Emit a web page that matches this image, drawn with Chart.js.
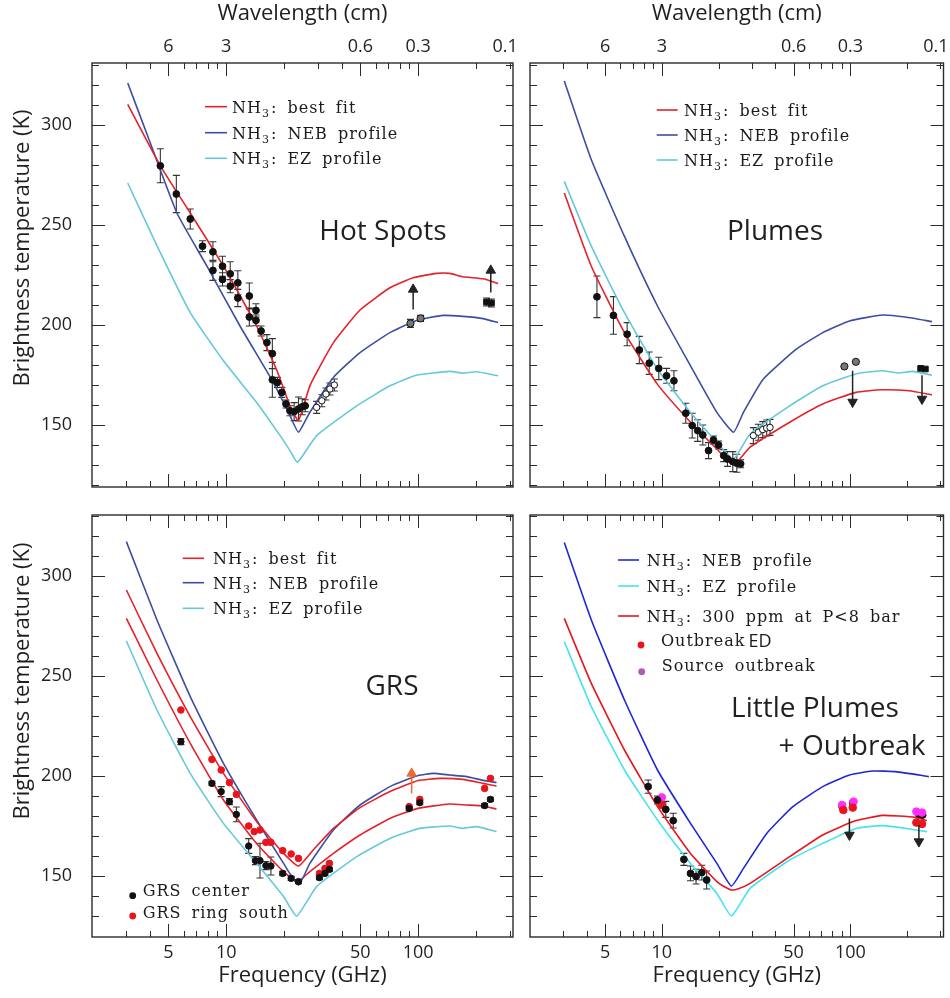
<!DOCTYPE html>
<html><head><meta charset="utf-8">
<script src="https://cdn.jsdelivr.net/npm/chart.js@4.4.1/dist/chart.umd.min.js"></script>
<style>
html,body{margin:0;padding:0;background:#fff;overflow:hidden;}
#wrap{position:relative;width:950px;height:998px;}
#wrap canvas{position:absolute;left:0;top:0;}
</style></head><body>
<div id="wrap">
<canvas id="cHS" width="950" height="998"></canvas>
<canvas id="cPL" width="950" height="998"></canvas>
<canvas id="cGRS" width="950" height="998"></canvas>
<canvas id="cLP" width="950" height="998"></canvas>
</div>
<script>
// ---------- axes ----------
const FREQ_MAJOR = [5, 10, 50, 100];
const FREQ_MINOR = [3, 4, 6, 7, 8, 9, 20, 30, 40, 60, 70, 80, 90, 200, 300];
const FREQ_LABELS = ['5', '10', '50', '100'];
const WAVE_TICK_FREQ = [5, 10, 50, 100, 300];
const WAVE_LABELS = ['6', '3', '0.6', '0.3', '0.1\u2002'];
const TEMP_TICKS = [150, 200, 250, 300];

// ---------- Hot Spots ----------
const HS_FIT_F = [3.07, 4.54, 6.5, 9.68, 14.4, 18.4, 21.5, 23.8, 27.3, 36.2, 49.8, 71.3, 94.2, 124.7, 146, 171, 218, 261];
const HS_FIT_T = [310.3, 279.6, 256, 229.4, 199.5, 177.1, 159.6, 152.2, 169.6, 191.2, 207.5, 218.6, 223.6, 225.8, 225.8, 224.1, 223.1, 220.8];
const HS_NEB_F = [3.07, 3.94, 5.54, 7.94, 11.8, 17.6, 21.5, 23.8, 27.3, 36.2, 49.8, 71.3, 98, 135, 171, 218, 261];
const HS_NEB_T = [321, 293.4, 256, 229.4, 199.5, 171.3, 154.7, 146.4, 156.4, 173.8, 186.2, 196.2, 202.3, 204.8, 204.3, 203.2, 201.2];
const HS_EZ_F = [3.07, 4.37, 6.5, 9.68, 14.4, 19.1, 21.5, 23.5, 29.6, 47.9, 71.3, 98, 146, 171, 201, 261];
const HS_EZ_T = [271, 239.4, 206.2, 182.1, 161.3, 144.7, 137.2, 131.4, 144.7, 159.6, 169.6, 174.9, 176.8, 175.9, 176.6, 174.6];
const HS_OBS_F = [4.54, 5.5, 6.5, 7.53, 8.53, 8.53, 9.57, 9.57, 10.5, 10.5, 11.5, 11.5, 13.2, 13.2, 14.3, 14.3, 15.2, 16.3, 17.4, 17.4, 18.5, 19.5, 20.5, 21.5, 22.6, 23.8, 24.9, 25.8];
const HS_OBS_T = [279.6, 265.5, 253, 239.4, 236.6, 227.3, 229.4, 222.8, 225.6, 219.4, 221.1, 213.5, 214.5, 204, 207.3, 202.3, 197, 191.2, 185.7, 172.6, 171.3, 166.3, 160.5, 157.1, 156.7, 158, 159.1, 159.6];
const HS_OBS_E = [8.5, 9.3, 5, 2.7, 5, 5, 5, 3.3, 6, 3.3, 6, 4.3, 6.5, 4.5, 3.3, 2.7, 2.5, 4, 7.5, 8.7, 2.5, 2.5, 2, 2.5, 4.5, 6, 4, 3];
const HS_OPEN_F = [29.6, 31.5, 33.1, 34.7, 36.6];
const HS_OPEN_T = [158.8, 162.1, 165.5, 168, 170];
const HS_OPEN_E = [3, 3, 3, 3, 3];
const HS_HI_F = [91.2, 103];
const HS_HI_T = [200.8, 203.3];
const HS_HI_E = [2, 1.5];
const HS_SQ_F = [227, 241];
const HS_SQ_T = [211.5, 211];
const HS_SQ_E = [2, 2];
const HS_ARROW_F = [94.2, 239];
const HS_ARROW_FROM = [207.8, 216.2];
const HS_ARROW_TO = [217.8, 227.3];

// ---------- Plumes ----------
const PL_NEB_F = [3.04, 4.23, 6.34, 9.49, 14.2, 19.6, 24, 27.1, 34.5, 51.7, 71.4, 98.9, 148, 196, 271];
const PL_NEB_T = [322, 282.6, 244.3, 209.5, 179.6, 156.3, 146.4, 156.3, 172.9, 187.9, 196.2, 202, 205, 204, 201.7];
const PL_EZ_F = [3.04, 4.23, 6.34, 9.49, 14.2, 19.6, 24, 29.4, 47.7, 71.4, 107, 148, 181, 213, 271];
const PL_EZ_T = [271.8, 239.4, 206.2, 177.9, 156.3, 141.4, 133, 145.5, 159.6, 169.6, 175.5, 177.1, 176, 176.8, 174.9];
const PL_FIT_F = [3.04, 4.23, 6.34, 9.49, 14.2, 19.6, 24, 29.4, 47.7, 71.4, 107, 148, 205, 271];
const PL_FIT_T = [266, 229.4, 196.2, 170.3, 151.4, 138, 130, 138.9, 151.4, 160.5, 166.3, 167.6, 167.1, 165.1];
const PL_OBS_F = [4.53, 5.54, 6.55, 7.6, 8.58, 9.64, 10.6, 11.6, 13.4, 14.5, 15.5, 16.5, 17.7, 18.8, 20, 21.3, 22.3, 23.8, 25, 26.2];
const PL_OBS_T = [214.1, 204.8, 195.4, 187.5, 180.9, 178.3, 174.6, 172.1, 155.9, 149.7, 147.2, 145, 137.2, 142.5, 140, 134.7, 133, 131.7, 130.9, 130.6];
const PL_OBS_E = [10.4, 9.4, 5.8, 6.8, 5.6, 5.6, 3.7, 5, 5, 6.2, 5.4, 5, 4, 2, 2, 3, 3.7, 5, 4.5, 2];
const PL_OPEN_F = [30.6, 32.5, 34.3, 36, 37.5];
const PL_OPEN_T = [144.7, 146.4, 147.7, 148.5, 148.8];
const PL_OPEN_E = [4, 4, 4, 4, 4];
const PL_HI_F = [93, 107];
const PL_HI_T = [179.3, 181.6];
const PL_SQ_F = [236, 250];
const PL_SQ_T = [178.3, 178];
const PL_ARROW_F = [102.8, 240];
const PL_ARROW_FROM = [177.1, 174.9];
const PL_ARROW_TO = [161.5, 163];

// ---------- GRS ----------
const GRS_NEB_F = [3.02, 4.36, 6.5, 9.68, 14.4, 19.9, 23.8, 27.3, 36.2, 49.8, 71.3, 100, 120, 146, 179, 218, 256];
const GRS_NEB_T = [317.2, 278, 239.7, 206.3, 178, 156.3, 145.5, 156.3, 173, 185.5, 194.7, 200.2, 201.3, 200.5, 199.7, 197.8, 196.7];
const GRS_FIT_S_F = [3.02, 4.36, 6.5, 9.68, 14.4, 19.9, 23.8, 28.4, 36.2, 49.8, 71.3, 100, 130, 171, 218, 256];
const GRS_FIT_S_T = [293, 261.3, 229.7, 201.3, 177.2, 161.3, 155, 163, 173.8, 184.2, 192.2, 197.7, 198.8, 198.3, 196.3, 195];
const GRS_FIT_C_F = [3.02, 4.36, 6.5, 9.68, 14.4, 19.9, 23.5, 27.3, 36.2, 49.8, 71.3, 100, 146, 179, 218, 256];
const GRS_FIT_C_T = [278.8, 248, 216.3, 188, 166.3, 152.2, 147.2, 152.2, 161.3, 170.5, 178.8, 183.8, 186, 185.5, 185, 183.5];
const GRS_EZ_F = [3.02, 4.36, 6.5, 9.68, 14.4, 19.9, 23.3, 29.6, 47.9, 71.3, 102, 146, 171, 201, 256];
const GRS_EZ_T = [267.5, 233, 201.3, 176.3, 156.3, 139.7, 130, 144.7, 159.7, 168.8, 173.8, 175, 173.8, 174.7, 172.2];
const GRS_C_F = [5.81, 8.43, 9.42, 10.4, 11.3, 13.1, 14.2, 15, 16.1, 17.1, 19.7, 21.8, 23.8, 30.6, 32.7, 34.5, 89.8, 102, 222, 238];
const GRS_C_T = [217.2, 196.3, 192.2, 187.2, 180.8, 165, 157.7, 157.7, 155.2, 155, 151.3, 148.8, 147.2, 149.2, 151.3, 153.3, 183.8, 186.7, 185.2, 188.3];
const GRS_C_E = [1.5, 1, 2.5, 1.5, 3.7, 3.7, 2, 8.7, 2, 4.5, 1, 1, 1, 1, 1, 1, 1, 1, 1, 1];
const GRS_S_F = [5.81, 8.43, 9.42, 10.4, 11.3, 13.1, 14, 15, 16.1, 17.1, 19.7, 21.8, 23.8, 30.6, 32.7, 34.5, 89.8, 102, 222, 238];
const GRS_S_T = [233, 208.3, 203, 196.7, 190.8, 175, 172.2, 173, 166.8, 166.8, 162.7, 161, 158.8, 151.3, 153.8, 156.3, 184.7, 188.3, 193.8, 198.8];
const GRS_ARROW_F = [92.5];
const GRS_ARROW_FROM = [191.3];
const GRS_ARROW_TO = [201.3];

// ---------- Little Plumes + Outbreak ----------
const LP_NEB_F = [3.04, 4.23, 6.34, 9.49, 14.2, 19.6, 23.4, 27.1, 36, 49.6, 71.4, 98.9, 131, 174, 261];
const LP_NEB_T = [316.7, 278, 238, 203, 176.3, 156.3, 145, 153.8, 171.3, 184.7, 194.7, 200.5, 202.5, 202.2, 199.7];
const LP_EZ_F = [3.04, 4.23, 6.34, 9.49, 14.2, 19.6, 23.4, 29.4, 47.7, 71.4, 107, 148, 181, 255];
const LP_EZ_T = [267.2, 234.7, 203, 178, 156.3, 141.3, 130, 143.8, 158, 166.3, 173.8, 175.2, 174.3, 172.2];
const LP_300_F = [3.04, 4.23, 6.34, 9.49, 14.2, 19.6, 21.5, 23.4, 25.5, 29.4, 47.7, 71.4, 107, 148, 181, 221, 255];
const LP_300_T = [278.8, 246.3, 213, 184.7, 161.3, 147.2, 144.6, 143, 143.6, 146.3, 159.7, 170.5, 177.7, 180.3, 180, 179.3, 177.7];
const LP_OBS_F = [8.47, 9.49, 10.5, 11.5, 13.1, 14.2, 15.2, 16.3, 17.3];
const LP_OBS_T = [194.7, 188, 183.3, 177.7, 158.3, 151.3, 149.7, 151.7, 148];
const LP_OBS_E = [3.3, 2, 4, 3.7, 3, 3.7, 3.7, 3.7, 4.5];
const LP_HIDDEN_F = [90.4, 103, 230, 242];
const LP_HIDDEN_T = [184.7, 186.7, 181, 180.5];
const LP_SRC_F = [10, 90.4, 104, 224, 240];
const LP_SRC_T = [189.3, 185.5, 187.2, 182.2, 181.7];
const LP_ED_F = [10, 91.8, 103, 224, 240];
const LP_ED_T = [185.5, 183, 184.2, 176.7, 176];
const LP_ARROW_F = [98.9, 231];
const LP_ARROW_FROM = [178.8, 175.5];
const LP_ARROW_TO = [170.5, 167.2];

// ---------- style ----------
const SANS = '"Open Sans", "Noto Sans", sans-serif';
const SERIF = '"DejaVu Serif", serif';
const INK = '#231f20';
const RED = '#e4222a', BLUE = '#3d4ea2', CYAN = '#66c8dc';
const BLUE2 = '#1f27d4', CYAN2 = '#45e4ee', RED2 = '#e8151d';
const MAG = '#ff2eff', PURPLE = '#b25ab5', ORANGE = '#ee6a2a';

function pts(F, T) { return F.map((f, i) => ({x: f, y: T[i]})); }
function curveDs(label, F, T, color) {
  return {label, data: pts(F, T), showLine: true, borderColor: color, backgroundColor: color,
    borderWidth: 1.6, pointRadius: 0, tension: 0.15, order: 10};
}
function pointDs(label, F, T, E, o) {
  return Object.assign({label, data: pts(F, T), showLine: false, errorBars: E || null,
    pointRadius: 3.4, pointStyle: 'circle', pointBackgroundColor: '#111', pointBorderColor: '#111',
    pointBorderWidth: 1, borderColor: '#111', backgroundColor: '#111', order: 3}, o || {});
}
function arrows(label, F, FROM, TO, color) {
  return F.map((f, i) => {
    const down = TO[i] < FROM[i];
    return {label, data: [{x: f, y: FROM[i]}, {x: f, y: TO[i]}], showLine: true, borderColor: color,
      backgroundColor: color, borderWidth: 1.5, pointRadius: [0, 5.5], pointStyle: 'triangle',
      pointRotation: [0, down ? 180 : 0], pointBackgroundColor: color, pointBorderColor: color,
      pointBorderWidth: 1, tension: 0, order: 1};
  });
}

// ---------- plugins ----------
const frameTicks = {
  id: 'frameTicks',
  afterDatasetsDraw(chart) {
    const {ctx, chartArea: a, scales: {x, y}} = chart;
    ctx.save();
    ctx.strokeStyle = '#2b2b2b';
    ctx.lineWidth = 1;
    ctx.beginPath();
    const xt = (vals, len) => vals.forEach(v => {
      const p = Math.round(x.getPixelForValue(v)) + 0.5;
      if (p <= a.left + 1 || p >= a.right - 1) return;
      ctx.moveTo(p, a.bottom); ctx.lineTo(p, a.bottom - len);
      ctx.moveTo(p, a.top); ctx.lineTo(p, a.top + len);
    });
    xt(FREQ_MAJOR, 13); xt(FREQ_MINOR, 6);
    for (let v = Math.ceil(y.min / 10) * 10; v <= y.max; v += 10) {
      const p = Math.round(y.getPixelForValue(v)) + 0.5;
      if (p <= a.top + 1 || p >= a.bottom - 1) continue;
      const len = (v % 50 === 0) ? 13 : 7;
      ctx.moveTo(a.left, p); ctx.lineTo(a.left + len, p);
      ctx.moveTo(a.right, p); ctx.lineTo(a.right - len, p);
    }
    ctx.stroke();
    ctx.lineWidth = 1.4;
    ctx.strokeRect(a.left, a.top, a.right - a.left, a.bottom - a.top);
    ctx.restore();
  }
};

const errorBars = {
  id: 'errorBars',
  beforeDatasetsDraw(chart) {
    const {ctx, chartArea: a, scales: {x, y}} = chart;
    ctx.save();
    ctx.beginPath(); ctx.rect(a.left, a.top, a.right - a.left, a.bottom - a.top); ctx.clip();
    chart.data.datasets.forEach(ds => {
      if (!ds.errorBars) return;
      ctx.strokeStyle = '#333'; ctx.lineWidth = 1.1;
      ctx.beginPath();
      ds.data.forEach((p, i) => {
        const e = ds.errorBars[i]; if (!e) return;
        const px = x.getPixelForValue(p.x);
        const y1 = y.getPixelForValue(p.y - e), y2 = y.getPixelForValue(p.y + e);
        ctx.moveTo(px, y1); ctx.lineTo(px, y2);
        ctx.moveTo(px - 3.5, y1); ctx.lineTo(px + 3.5, y1);
        ctx.moveTo(px - 3.5, y2); ctx.lineTo(px + 3.5, y2);
      });
      ctx.stroke();
    });
    ctx.restore();
  }
};

function drawRich(ctx, label, x, yMid, tail) {
  ctx.fillStyle = '#1b1b1b';
  ctx.textBaseline = 'alphabetic';
  ctx.textAlign = 'left';
  const base = yMid + 6;
  ctx.letterSpacing = '1px';
  ctx.wordSpacing = '4px';
  ctx.font = '16px ' + SERIF;
  let main = label, sans = null;
  if (tail && label.endsWith(' ' + tail)) { main = label.slice(0, -tail.length - 1); sans = tail; }
  const parts = main.split('\u2083');
  ctx.fillText(parts[0], x, base);
  let cx = x + ctx.measureText(parts[0]).width;
  if (parts.length > 1) {
    ctx.font = '11px ' + SERIF;
    ctx.fillText('3', cx, base + 4);
    cx += ctx.measureText('3').width + 1;
    ctx.font = '16px ' + SERIF;
    ctx.fillText(parts[1], cx, base);
    cx += ctx.measureText(parts[1]).width;
  }
  if (sans) {
    ctx.letterSpacing = '0px';
    ctx.font = '18px ' + SANS;
    ctx.fillText(sans, cx + 3, base + 1);
  }
}

const panelLegend = {
  id: 'panelLegend',
  afterDraw(chart, args, o) {
    if (!o || !o.items) return;
    const {ctx, chartArea: a} = chart;
    o.items.forEach(it => {
      const d = chart.data.datasets[it.ds];
      const color = d.legendColor || d.borderColor;
      const y = a.top + it.y;
      ctx.save();
      if (it.kind === 'line') {
        ctx.strokeStyle = color; ctx.lineWidth = 1.6;
        ctx.beginPath(); ctx.moveTo(a.left + it.x0, y); ctx.lineTo(a.left + it.x1, y); ctx.stroke();
      } else {
        ctx.fillStyle = color;
        ctx.beginPath(); ctx.arc(a.left + it.x0, y + it.dy, 3.4, 0, Math.PI * 2); ctx.fill();
      }
      drawRich(ctx, d.label, a.left + it.tx, y, it.tail);
      ctx.restore();
    });
  }
};

const panelText = {
  id: 'panelText',
  afterDraw(chart, args, o) {
    if (!o || !o.items) return;
    const {ctx, chartArea: a} = chart;
    o.items.forEach(t => {
      ctx.save();
      ctx.font = t.font; ctx.fillStyle = INK;
      ctx.textAlign = 'center'; ctx.textBaseline = 'middle';
      ctx.translate(t.abs ? t.x : a.left + t.x, t.abs ? t.y : a.top + t.y);
      if (t.rot) ctx.rotate(t.rot);
      ctx.fillText(t.text, 0, 0);
      ctx.restore();
    });
  }
};

// ---------- chart builder ----------
function makeChart(id, cfg) {
  const top = cfg.xPos === 'top';
  const xTicks = top ? WAVE_TICK_FREQ : FREQ_MAJOR;
  const xLabels = top ? WAVE_LABELS : FREQ_LABELS;
  return new Chart(document.getElementById(id), {
    type: 'scatter',
    data: {datasets: cfg.datasets},
    options: {
      responsive: false, animation: false, events: [],
      layout: {padding: cfg.padding},
      plugins: {
        legend: {display: false}, tooltip: {enabled: false},
        panelLegend: {items: cfg.legend}, panelText: {items: cfg.texts}
      },
      scales: {
        x: {
          type: 'logarithmic', position: cfg.xPos, min: 2, max: 312,
          grid: {display: false, drawTicks: false}, border: {display: false},
          afterBuildTicks: s => { s.ticks = xTicks.map(v => ({value: v})); },
          afterFit: s => { s.height = top ? 63 : 61; s.paddingLeft = 0; s.paddingRight = 0; },
          ticks: {font: {family: SANS, size: 18}, color: INK, padding: 5, maxRotation: 0, autoSkip: false,
            callback: v => { const i = xTicks.indexOf(v); return i >= 0 ? xLabels[i] : ''; }},
          title: {display: true, text: top ? 'Wavelength (cm)' : 'Frequency (GHz)', color: INK,
            font: {family: SANS, size: 22}, padding: top ? {top: 1, bottom: 0} : {top: 0, bottom: 9}}
        },
        y: {
          type: 'linear', display: cfg.yShow, min: cfg.yMin, max: cfg.yMax,
          grid: {display: false, drawTicks: false}, border: {display: false},
          afterBuildTicks: s => { s.ticks = TEMP_TICKS.map(v => ({value: v})); },
          afterFit: s => { s.width = cfg.yShow ? 92 : 0; s.paddingTop = 0; s.paddingBottom = 0; },
          ticks: {font: {family: SANS, size: 18}, color: INK, padding: 20},
          title: {display: false}
        }
      }
    },
    plugins: [errorBars, frameTicks, panelLegend, panelText]
  });
}

const YTITLE = 'Brightness temperature (K)';
const BIG = '28px ' + SANS;

// Hot Spots
makeChart('cHS', {
  xPos: 'top', yShow: true, yMin: 119, yMax: 331,
  padding: {left: 0, top: 0, right: 437, bottom: 511},
  datasets: [
    curveDs('NH\u2083: best fit', HS_FIT_F, HS_FIT_T, RED),
    curveDs('NH\u2083: NEB profile', HS_NEB_F, HS_NEB_T, BLUE),
    curveDs('NH\u2083: EZ profile', HS_EZ_F, HS_EZ_T, CYAN),
    pointDs('Hot Spots', HS_OBS_F, HS_OBS_T, HS_OBS_E),
    pointDs('Hot Spots (open)', HS_OPEN_F, HS_OPEN_T, HS_OPEN_E, {pointBackgroundColor: '#fff', pointRadius: 3.2}),
    pointDs('Hot Spots (mm)', HS_HI_F, HS_HI_T, HS_HI_E, {pointBackgroundColor: '#777', pointRadius: 3.6}),
    pointDs('Hot Spots (sub-mm)', HS_SQ_F, HS_SQ_T, HS_SQ_E, {pointStyle: 'rect', pointRadius: 4}),
    ...arrows('lower limit', HS_ARROW_F, HS_ARROW_FROM, HS_ARROW_TO, '#222')
  ],
  legend: [
    {ds: 0, kind: 'line', x0: 113, x1: 135, tx: 140, y: 43.7},
    {ds: 1, kind: 'line', x0: 113, x1: 135, tx: 140, y: 69.7},
    {ds: 2, kind: 'line', x0: 113, x1: 135, tx: 140, y: 95.3}
  ],
  texts: [
    {text: 'Hot Spots', x: 291, y: 169, font: BIG},
    {text: YTITLE, x: 23, y: 248, abs: true, rot: -Math.PI / 2, font: '22px ' + SANS}
  ]
});

// Plumes
makeChart('cPL', {
  xPos: 'top', yShow: false, yMin: 119, yMax: 331,
  padding: {left: 530, top: 0, right: 2.5, bottom: 511},
  datasets: [
    curveDs('NH\u2083: best fit', PL_FIT_F, PL_FIT_T, RED),
    curveDs('NH\u2083: NEB profile', PL_NEB_F, PL_NEB_T, BLUE),
    curveDs('NH\u2083: EZ profile', PL_EZ_F, PL_EZ_T, CYAN),
    pointDs('Plumes', PL_OBS_F, PL_OBS_T, PL_OBS_E),
    pointDs('Plumes (open)', PL_OPEN_F, PL_OPEN_T, PL_OPEN_E, {pointBackgroundColor: '#fff', pointRadius: 3.2}),
    pointDs('Plumes (mm)', PL_HI_F, PL_HI_T, null, {pointBackgroundColor: '#777', pointRadius: 3.6}),
    pointDs('Plumes (sub-mm)', PL_SQ_F, PL_SQ_T, null, {pointStyle: 'rect', pointRadius: 4}),
    ...arrows('upper limit', PL_ARROW_F, PL_ARROW_FROM, PL_ARROW_TO, '#222')
  ],
  legend: [
    {ds: 0, kind: 'line', x0: 126.7, x1: 147.7, tx: 154, y: 47},
    {ds: 1, kind: 'line', x0: 126.7, x1: 147.7, tx: 154, y: 72},
    {ds: 2, kind: 'line', x0: 126.7, x1: 147.7, tx: 154, y: 97}
  ],
  texts: [
    {text: 'Plumes', x: 245, y: 169, font: BIG}
  ]
});

// GRS
makeChart('cGRS', {
  xPos: 'bottom', yShow: true, yMin: 119.5, yMax: 330.5,
  padding: {left: 0, top: 515, right: 437, bottom: 0},
  datasets: [
    curveDs('NH\u2083: best fit', GRS_FIT_S_F, GRS_FIT_S_T, RED),
    curveDs('NH\u2083: NEB profile', GRS_NEB_F, GRS_NEB_T, BLUE),
    curveDs('NH\u2083: EZ profile', GRS_EZ_F, GRS_EZ_T, CYAN),
    curveDs('NH\u2083: best fit (GRS center)', GRS_FIT_C_F, GRS_FIT_C_T, RED),
    pointDs('GRS ring south', GRS_S_F, GRS_S_T, null, {pointBackgroundColor: RED2, pointBorderColor: RED2, borderColor: RED2, pointRadius: 3.3, order: 4}),
    pointDs('GRS center', GRS_C_F, GRS_C_T, GRS_C_E, {pointRadius: 3.2}),
    ...arrows('lower limit', GRS_ARROW_F, GRS_ARROW_FROM, GRS_ARROW_TO, ORANGE)
  ],
  legend: [
    {ds: 0, kind: 'line', x0: 90.7, x1: 112, tx: 121, y: 43.3},
    {ds: 1, kind: 'line', x0: 90.7, x1: 112, tx: 121, y: 67.7},
    {ds: 2, kind: 'line', x0: 90.7, x1: 112, tx: 121, y: 93.3},
    {ds: 5, kind: 'dot', x0: 40.7, dy: 5.7, tx: 50.7, y: 375},
    {ds: 4, kind: 'dot', x0: 40.7, dy: 4.3, tx: 50.7, y: 396.7}
  ],
  texts: [
    {text: 'GRS', x: 300, y: 172, font: BIG},
    {text: YTITLE, x: 23, y: 681, abs: true, rot: -Math.PI / 2, font: '22px ' + SANS}
  ]
});

// Little Plumes + Outbreak
makeChart('cLP', {
  xPos: 'bottom', yShow: false, yMin: 119.5, yMax: 330.5,
  padding: {left: 530, top: 515, right: 2.5, bottom: 0},
  datasets: [
    curveDs('NH\u2083: NEB profile', LP_NEB_F, LP_NEB_T, BLUE2),
    curveDs('NH\u2083: EZ profile', LP_EZ_F, LP_EZ_T, CYAN2),
    curveDs('NH\u2083: 300 ppm at P<8 bar', LP_300_F, LP_300_T, RED2),
    pointDs('Little Plumes', LP_OBS_F, LP_OBS_T, LP_OBS_E),
    pointDs('Outbreak (black)', LP_HIDDEN_F, LP_HIDDEN_T, null, {order: 5}),
    pointDs('Outbreak ED', LP_ED_F, LP_ED_T, null, {pointBackgroundColor: RED2, pointBorderColor: RED2, borderColor: RED2, pointRadius: 3.8, order: 3}),
    pointDs('Source outbreak', LP_SRC_F, LP_SRC_T, null, {pointBackgroundColor: MAG, pointBorderColor: MAG, borderColor: MAG, legendColor: PURPLE, pointRadius: 3.8, order: 4}),
    ...arrows('upper limit', LP_ARROW_F, LP_ARROW_FROM, LP_ARROW_TO, '#222')
  ],
  legend: [
    {ds: 0, kind: 'line', x0: 88, x1: 109, tx: 116.7, y: 45},
    {ds: 1, kind: 'line', x0: 88, x1: 109, tx: 116.7, y: 71},
    {ds: 2, kind: 'line', x0: 88, x1: 109, tx: 116.7, y: 101},
    {ds: 5, kind: 'dot', x0: 111, dy: 5, tx: 131, y: 125, tail: 'ED'},
    {ds: 6, kind: 'dot', x0: 111.7, dy: 6.7, tx: 131.7, y: 150}
  ],
  texts: [
    {text: 'Little Plumes', x: 285, y: 194, font: BIG},
    {text: '+ Outbreak', x: 322, y: 232, font: BIG}
  ]
});
</script>
</body></html>
